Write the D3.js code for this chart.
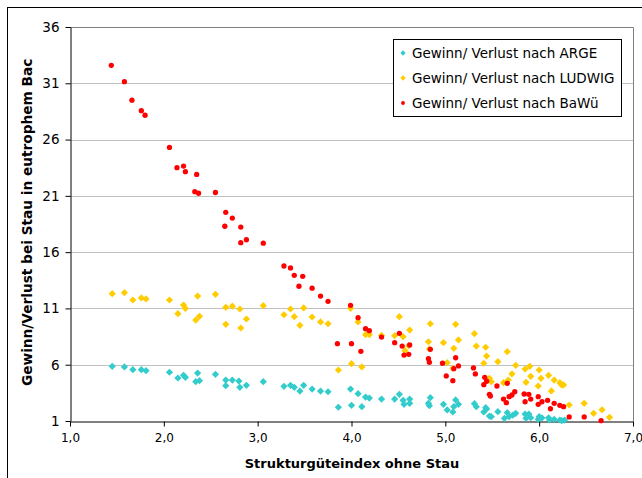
<!DOCTYPE html>
<html>
<head>
<meta charset="utf-8">
<script src="https://cdnjs.cloudflare.com/ajax/libs/d3/7.8.5/d3.min.js"></script>
<style>
  body { margin: 0; background: #fff; }
  text { font-family: Verdana, "DejaVu Sans", sans-serif; }
</style>
</head>
<body>
<script>
// Gewinn/Verlust, drei Berechnungsarten  [Strukturgueteindex, Wert]
var argeData = [
  [1.45,5.86],[1.58,5.80],[1.67,5.56],[1.76,5.56],[1.81,5.47],
  [2.06,5.33],[2.15,4.82],[2.21,5.06],[2.23,4.88],[2.36,5.26],[2.34,4.49],[2.38,4.58],
  [2.55,5.15],[2.66,4.64],[2.73,4.64],[2.66,4.14],[2.80,4.55],[2.81,3.99],[2.88,4.17],
  [3.06,4.49],[3.28,4.08],[3.35,4.17],[3.39,3.99],[3.49,4.17],[3.45,3.66],[3.58,3.84],
  [3.67,3.66],[3.75,3.60],[3.86,2.22],[3.99,3.84],[4.00,2.39],[4.07,3.43],[4.11,2.27],
  [4.15,3.13],[4.19,3.04],[4.32,2.95],[4.46,2.95],[4.51,3.37],[4.55,2.84],[4.56,2.48],
  [4.62,2.95],[4.62,2.57],[4.82,2.57],[4.83,2.36],[4.84,3.07],[4.98,2.48],[5.02,1.98],
  [5.08,1.80],[5.09,2.27],[5.11,2.87],[5.14,2.48],[5.31,2.54],[5.33,2.27],[5.41,1.80],
  [5.43,2.18],[5.44,2.07],[5.47,1.44],[5.49,1.38],[5.56,1.83],[5.63,1.24],[5.66,1.74],
  [5.68,1.38],[5.72,1.53],[5.75,1.68],[5.85,1.62],[5.86,1.24],[5.89,1.62],[5.91,1.29],
  [5.99,1.15],[6.00,1.38],[6.03,1.27],[6.10,1.29],[6.11,1.09],[6.16,1.15],[6.22,1.09],
  [6.24,1.03],[6.27,1.08]
];
var ludwigData = [
  [1.45,12.31],[1.58,12.40],[1.67,11.75],[1.76,11.93],[1.81,11.84],[2.06,11.75],[2.15,10.53],
  [2.21,11.30],[2.23,11.00],[2.34,9.97],[2.36,12.10],[2.38,10.30],[2.55,12.25],[2.66,9.59],
  [2.66,11.10],[2.73,11.20],[2.81,10.95],[2.82,9.26],[2.88,10.06],[3.06,11.24],[3.28,10.44],
  [3.35,10.95],[3.39,10.27],[3.45,9.50],[3.49,11.04],[3.58,10.24],[3.67,9.80],[3.75,9.64],
  [3.86,5.53],[3.99,11.01],[4.00,6.09],[4.07,9.80],[4.11,5.80],[4.15,8.67],[4.19,8.67],
  [4.32,8.60],[4.46,8.58],[4.51,10.27],[4.55,8.49],[4.57,7.25],[4.61,7.69],[4.62,9.08],
  [4.82,8.04],[4.83,7.40],[4.84,9.64],[4.98,7.96],[5.02,6.18],[5.08,5.68],[5.09,7.46],
  [5.11,9.59],[5.14,8.20],[5.31,8.76],[5.33,7.66],[5.41,6.13],[5.43,7.55],[5.44,6.77],
  [5.47,4.79],[5.49,4.49],[5.56,6.27],[5.62,4.40],[5.67,4.64],[5.66,7.16],[5.71,5.18],
  [5.75,5.95],[5.85,5.62],[5.86,4.44],[5.90,5.86],[5.91,4.97],[5.99,4.11],[6.00,5.53],
  [6.02,4.79],[6.10,5.06],[6.13,3.67],[6.16,4.64],[6.22,4.40],[6.24,4.20],[6.26,4.20],
  [6.32,2.42],[6.48,2.57],[6.58,1.68],[6.67,2.00],[6.75,1.33]
];
var bawueData = [
  [1.44,32.60],[1.58,31.14],[1.66,29.50],[1.76,28.57],[1.80,28.16],[2.06,25.30],[2.14,23.50],
  [2.21,23.65],[2.23,23.15],[2.35,22.90],[2.33,21.37],[2.37,21.23],[2.55,21.30],[2.66,19.54],
  [2.73,19.03],[2.65,18.30],[2.82,18.23],[2.82,16.84],[2.88,17.10],[3.06,16.80],[3.28,14.77],
  [3.35,14.60],[3.39,13.94],[3.48,13.85],[3.44,12.97],[3.58,12.80],[3.67,12.10],[3.75,11.63],
  [3.85,7.87],[3.99,11.28],[4.00,7.87],[4.07,10.18],[4.10,7.19],[4.15,9.20],[4.19,9.02],
  [4.32,8.46],[4.46,7.96],[4.51,8.79],[4.54,7.66],[4.56,6.86],[4.61,6.92],[4.62,7.75],
  [4.82,6.53],[4.83,6.21],[4.84,7.37],[4.97,6.13],[5.01,5.00],[5.08,4.58],[5.09,5.65],
  [5.11,6.62],[5.14,5.89],[5.30,5.71],[5.32,5.18],[5.41,4.23],[5.42,4.88],[5.44,4.53],
  [5.47,3.37],[5.48,3.22],[5.55,4.11],[5.62,2.95],[5.65,2.63],[5.66,4.35],[5.68,3.16],
  [5.71,3.31],[5.74,3.60],[5.84,3.40],[5.85,2.71],[5.89,3.37],[5.91,2.95],[5.99,3.16],
  [5.99,2.48],[6.03,2.71],[6.09,2.84],[6.12,2.09],[6.16,2.57],[6.22,2.39],[6.26,2.27],
  [6.32,1.36],[6.48,1.36],[6.66,1.03]
];

var seriesNames = ["Gewinn/ Verlust nach ARGE", "Gewinn/ Verlust nach LUDWIG", "Gewinn/ Verlust nach BaWü"];
var seriesColors = ["#33CCCC", "#FFCC00", "#FF0000"];
var xTicks = [1, 2, 3, 4, 5, 6, 7];
var yTicks = [1, 6, 11, 16, 21, 26, 31, 36];
var xTitle = "Strukturgüteindex ohne Stau";
var yTitle = "Gewinn/Verlust bei Stau in eutrophem Bac";

var width = 642, height = 478;
var plotLeft = 70, plotRight = 633, plotTop = 27, plotBottom = 421;

var svg = d3.select("body").append("svg")
  .attr("width", width)
  .attr("height", height);

// Diagrammrahmen (rechts/unten abgeschnitten)
svg.append("rect")
  .attr("x", 7.5).attr("y", 7.5)
  .attr("width", 700).attr("height", 500)
  .attr("fill", "#fff").attr("stroke", "#000").attr("stroke-width", 1);

var xScale = d3.scaleLinear().domain([1, 7]).range([plotLeft, plotRight]);
var yScale = d3.scaleLinear().domain([1, 36]).range([plotBottom, plotTop]);

// grid
svg.append("g").selectAll("line").data(yTicks.slice(1)).enter().append("line")
  .attr("x1", plotLeft).attr("x2", plotRight)
  .attr("y1", function(d){ return Math.round(yScale(d)) + 0.5; })
  .attr("y2", function(d){ return Math.round(yScale(d)) + 0.5; })
  .attr("stroke", "#c0c0c0");

// plot border top/right
svg.append("path")
  .attr("d", "M" + plotLeft + "," + (plotTop + 0.5) + "H" + (plotRight + 0.5) + "V" + plotBottom)
  .attr("fill", "none").attr("stroke", "#808080");

var xAxis = d3.axisBottom(xScale).tickValues(xTicks).tickSize(5).tickSizeOuter(0)
  .tickFormat(function(d){ return d3.format(".1f")(d).replace(".", ","); });
var gx = svg.append("g").attr("transform", "translate(0," + (plotBottom + 0.5) + ")").call(xAxis);
gx.select(".domain").attr("stroke", "#000");
gx.selectAll(".tick line").attr("stroke", "#000");
gx.selectAll("text").attr("font-size", 12).attr("fill", "#000").attr("dy", "1em")
  .attr("font-family", "Verdana, 'DejaVu Sans', sans-serif");

var yAxis = d3.axisLeft(yScale).tickValues(yTicks).tickSize(5).tickSizeOuter(0);
var gy = svg.append("g").attr("transform", "translate(" + (plotLeft + 0.5) + ",0)").call(yAxis);
gy.select(".domain").attr("stroke", "#000");
gy.selectAll(".tick line").attr("stroke", "#000");
gy.selectAll("text").attr("font-size", 13.5).attr("fill", "#000").attr("x", -11)
  .attr("font-family", "Verdana, 'DejaVu Sans', sans-serif");

// Achsentitel
svg.append("text")
  .attr("x", 352).attr("y", 468)
  .attr("text-anchor", "middle")
  .attr("font-size", 13).attr("font-weight", "bold")
  .text(xTitle);

svg.append("text")
  .attr("transform", "translate(32,386) rotate(-90)")
  .attr("text-anchor", "start")
  .attr("font-size", 13.7).attr("font-weight", "bold")
  .text(yTitle);

var diamond = d3.symbol().type(d3.symbolSquare).size(26);
var circle = d3.symbol().type(d3.symbolCircle).size(22);

function drawDiamonds(data, color){
  svg.append("g").selectAll("path").data(data).enter().append("path")
    .attr("d", diamond)
    .attr("transform", function(d){ return "translate(" + xScale(d[0]) + "," + yScale(d[1]) + ") rotate(45)"; })
    .attr("fill", color);
}
drawDiamonds(argeData, seriesColors[0]);
drawDiamonds(ludwigData, seriesColors[1]);

svg.append("g").selectAll("path").data(bawueData).enter().append("path")
  .attr("d", circle)
  .attr("transform", function(d){ return "translate(" + xScale(d[0]) + "," + yScale(d[1]) + ")"; })
  .attr("fill", seriesColors[2]);

// Legende
var legend = svg.append("g");
legend.append("rect")
  .attr("x", 393.5).attr("y", 39.5).attr("width", 228).attr("height", 77)
  .attr("fill", "#fff").attr("stroke", "#000");
var rows = legend.selectAll("g").data(seriesNames).enter().append("g")
  .attr("transform", function(d, i){ return "translate(403," + (53 + i * 25) + ")"; });
rows.append("path")
  .attr("d", function(d, i){ return i < 2 ? d3.symbol().type(d3.symbolSquare).size(14)() : d3.symbol().type(d3.symbolCircle).size(12)(); })
  .attr("transform", function(d, i){ return i < 2 ? "rotate(45)" : null; })
  .attr("fill", function(d, i){ return seriesColors[i]; });
rows.append("text")
  .attr("x", 9).attr("y", 5)
  .attr("font-size", 13.5)
  .text(function(d){ return d; });
</script>
</body>
</html>
